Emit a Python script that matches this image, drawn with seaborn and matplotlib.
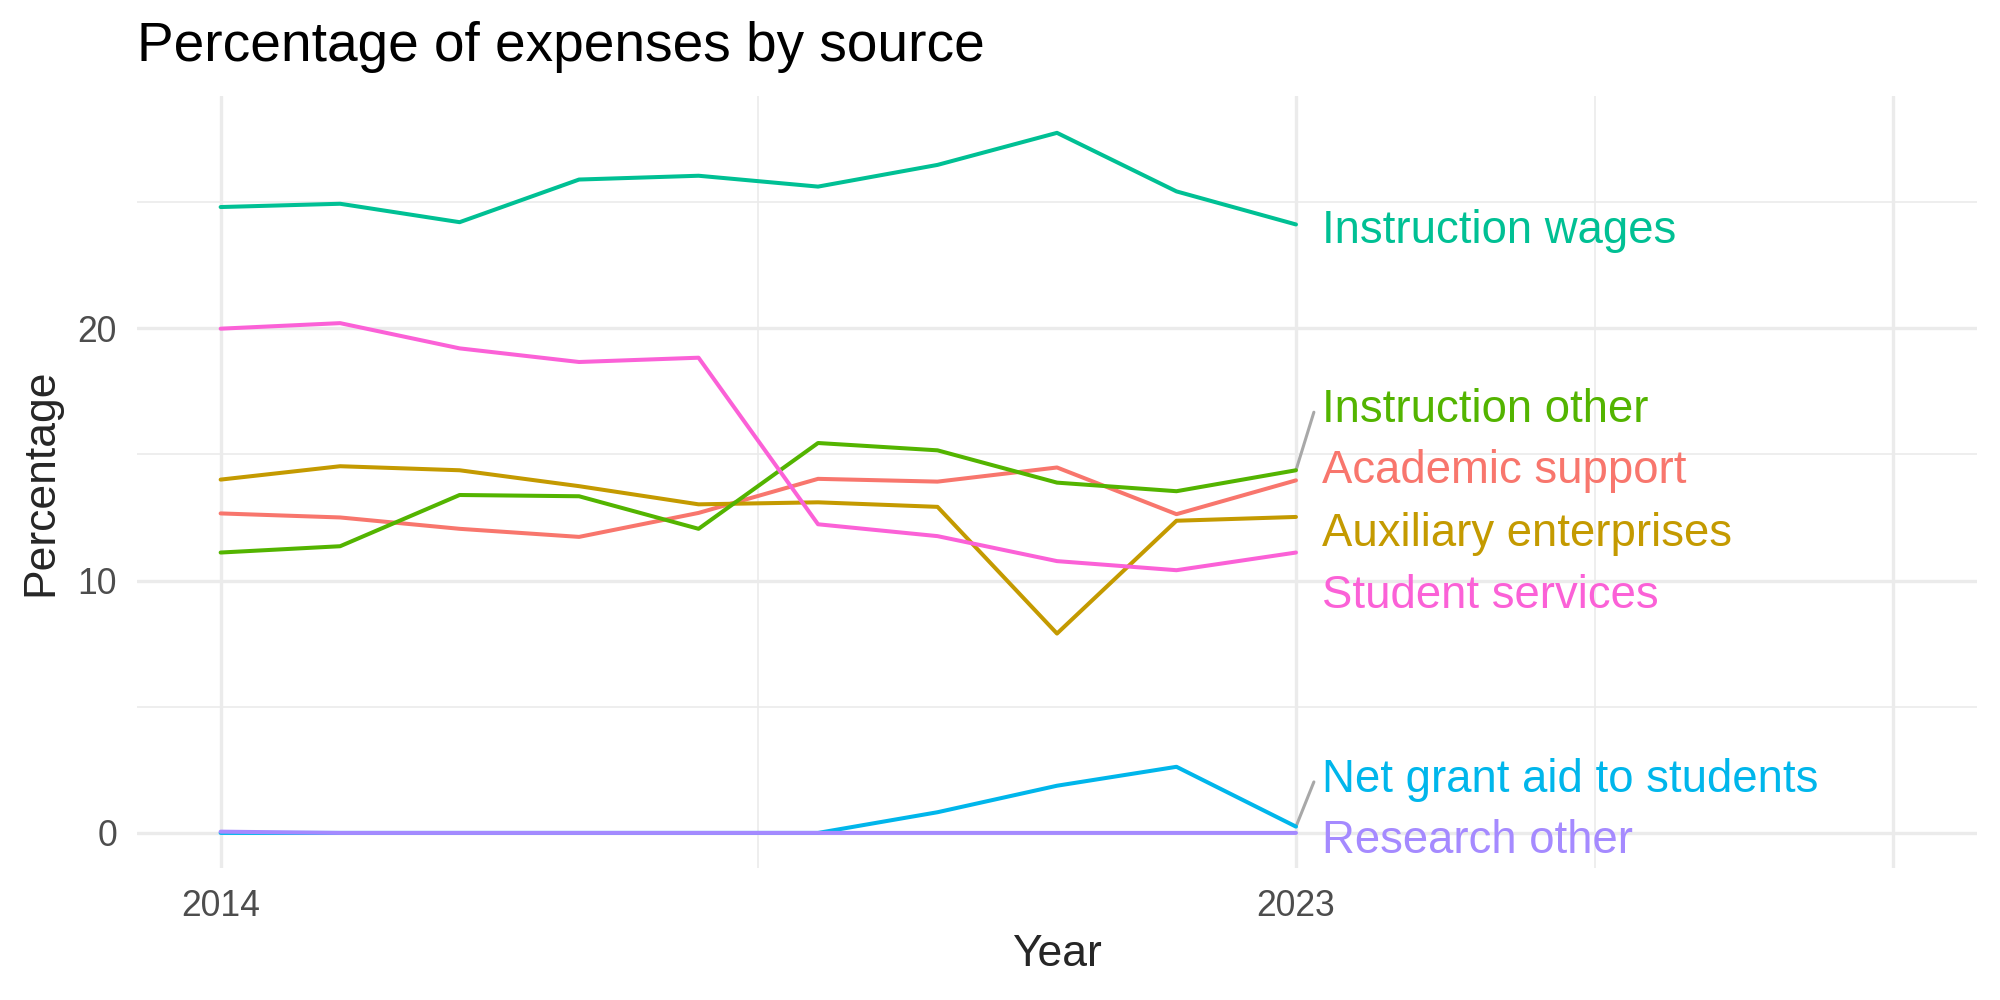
import numpy as np
import pandas as pd
import matplotlib
matplotlib.use("Agg")
import matplotlib.pyplot as plt
import seaborn as sns

years = [2014, 2015, 2016, 2017, 2018, 2019, 2020, 2021, 2022, 2023]

academic_support = [12.66, 12.50, 12.05, 11.73, 12.68, 14.03, 13.92, 14.48, 12.63, 13.97]
auxiliary_enterprises = [14.00, 14.53, 14.37, 13.74, 13.02, 13.10, 12.92, 7.90, 12.37, 12.52]
instruction_other = [11.11, 11.36, 13.39, 13.34, 12.05, 15.45, 15.16, 13.88, 13.54, 14.37]
instruction_wages = [24.80, 24.93, 24.20, 25.89, 26.04, 25.61, 26.47, 27.74, 25.42, 24.11]
net_grant_aid = [0.0, 0.0, 0.0, 0.0, 0.0, 0.0, 0.82, 1.87, 2.62, 0.25]
research_other = [0.05, 0.0, 0.0, 0.0, 0.0, 0.0, 0.0, 0.0, 0.0, 0.0]
student_services = [19.98, 20.20, 19.20, 18.66, 18.83, 12.23, 11.76, 10.77, 10.41, 11.11]

sources = ["Academic support", "Auxiliary enterprises", "Instruction other",
           "Instruction wages", "Net grant aid to students", "Research other",
           "Student services"]
series = [academic_support, auxiliary_enterprises, instruction_other,
          instruction_wages, net_grant_aid, research_other, student_services]
colors = ["#F8766D", "#C49A00", "#53B400", "#00C094", "#00B6EB", "#A58AFF", "#FB61D7"]

# label baselines (repelled positions)
label_baselines = [13.88, 11.38, 16.29, 23.39, 1.64, -0.79, 8.92]
has_segment = [False, False, True, False, True, False, False]
x_breaks = [2014, 2023, 2028]
x_break_labels = ["2014", "2023", ""]
x_minor = [2018.5, 2025.5]
y_breaks = [0, 10, 20]
y_minor = [5, 15, 25]

df = pd.DataFrame({
    "Year": np.tile(years, len(sources)),
    "Percentage": np.concatenate(series),
    "Source": np.repeat(sources, len(years)),
})

sns.set_theme(style="white")
plt.rcParams["font.family"] = ["Liberation Sans", "DejaVu Sans"]

fig = plt.figure(figsize=(10, 5), dpi=200)
ax = fig.add_axes([0.0685, 0.132, 0.92, 0.772])

grid_c = "#EBEBEB"
for v in y_minor:
    ax.axhline(v, color=grid_c, lw=0.6, zorder=0)
for v in y_breaks:
    ax.axhline(v, color=grid_c, lw=1.2, zorder=0)
for v in x_minor:
    ax.axvline(v, color=grid_c, lw=0.6, zorder=0)
for v in x_breaks:
    ax.axvline(v, color=grid_c, lw=1.2, zorder=0)

sns.lineplot(data=df, x="Year", y="Percentage", hue="Source",
             hue_order=sources, palette=colors, linewidth=1.45,
             legend=False, ax=ax, zorder=3)

last = df[df["Year"] == years[-1]].set_index("Source")["Percentage"]
for src, col, lb, seg in zip(sources, colors, label_baselines, has_segment):
    yv = last[src]
    ax.text(2023.22, lb, src, color=col, fontsize=16.4, va="baseline", ha="left", zorder=4)
    if seg:
        ax.plot([2023, 2023.15], [yv, lb + 0.38],
                color="#A8A8A8", lw=1.1, zorder=2, solid_capstyle="round")

ax.set_xlim(2013.3, 2028.7)
ax.set_ylim(-1.39, 29.2)
ax.set_xticks(x_breaks)
ax.set_xticklabels(x_break_labels)
ax.set_yticks(y_breaks)
ax.tick_params(axis="both", length=0, labelsize=12.8, labelcolor="#4D4D4D")
ax.tick_params(axis="x", pad=7.5)
ax.tick_params(axis="y", pad=7.2)
for s in ax.spines.values():
    s.set_visible(False)
ax.set_xlabel("")
ax.set_ylabel("")

fig.text(0.0685, 0.939, "Percentage of expenses by source", fontsize=19.8,
         ha="left", va="baseline", color="black")
fig.text(0.5285, 0.0345, "Year", fontsize=16, ha="center", va="baseline")
fig.text(0.0205, 0.518, "Percentage", fontsize=16, ha="center", va="center", rotation=90)

fig.savefig("out.png", dpi=200)
